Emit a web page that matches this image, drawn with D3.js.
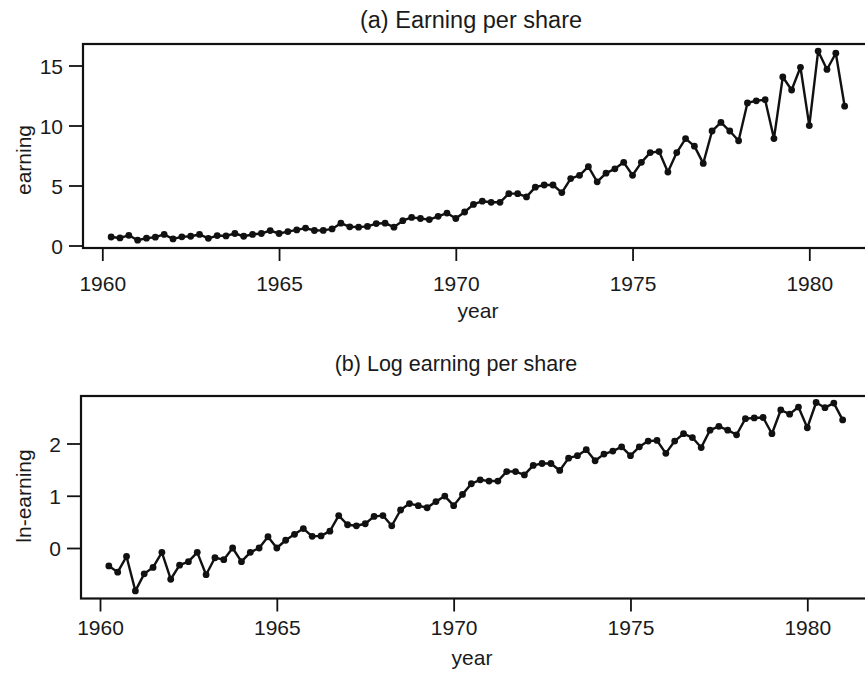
<!DOCTYPE html>
<html>
<head>
<meta charset="utf-8">
<script src="https://cdn.jsdelivr.net/npm/d3@7"></script>
<style>
  html, body { margin: 0; padding: 0; background: #fff; }
  svg { display: block; }
  text { font-family: "Liberation Sans", Arial, Helvetica, sans-serif; fill: #1a1a1a; }
</style>
</head>
<body>
<svg id="chart" width="865" height="674"></svg>
<script>
// Quarterly earnings per share, 1960 Q1 .. 1980 Q4 (plotted at quarter ends)
const firstYear = 1960;
const earnings = [
  0.71, 0.63, 0.85, 0.44,
  0.61, 0.69, 0.92, 0.55,
  0.72, 0.77, 0.92, 0.60,
  0.83, 0.80, 1.00, 0.77,
  0.92, 1.00, 1.24, 1.00,
  1.16, 1.30, 1.45, 1.25,
  1.26, 1.38, 1.86, 1.56,
  1.53, 1.59, 1.83, 1.86,
  1.53, 2.07, 2.34, 2.25,
  2.16, 2.43, 2.70, 2.25,
  2.79, 3.42, 3.69, 3.60,
  3.60, 4.32, 4.32, 4.05,
  4.86, 5.04, 5.04, 4.41,
  5.58, 5.85, 6.57, 5.31,
  6.03, 6.39, 6.93, 5.85,
  6.93, 7.74, 7.83, 6.12,
  7.74, 8.91, 8.28, 6.84,
  9.54, 10.26, 9.54, 8.73,
  11.88, 12.06, 12.15, 8.91,
  14.04, 12.96, 14.85, 9.99,
  16.20, 14.67, 16.02, 11.61
];
const yearTicks = [1960, 1965, 1970, 1975, 1980];
const earningTicks = [0, 5, 10, 15];
const logTicks = [0, 1, 2];

const series = earnings.map((v, i) => ({ t: firstYear + (i + 1) / 4, v }));
const logSeries = series.map(d => ({ t: d.t, v: Math.log(d.v) }));

const svg = d3.select("#chart");
const FONT = "'Liberation Sans', Arial, Helvetica, sans-serif";

function panel(cfg) {
  const g = svg.append("g");
  const x = d3.scaleLinear().domain([1960, 1980]).range(cfg.xRange);
  const y = d3.scaleLinear().domain(cfg.yDomain).range(cfg.yRange);
  const [fx0, fx1] = [cfg.frame.left, cfg.frame.right];
  const [fy0, fy1] = [cfg.frame.top, cfg.frame.bottom];

  // frame
  g.append("rect")
    .attr("x", fx0).attr("y", fy0)
    .attr("width", fx1 - fx0).attr("height", fy1 - fy0)
    .attr("fill", "none").attr("stroke", "#111").attr("stroke-width", 2.2);

  // y axis on the frame's left edge
  const yAxis = d3.axisLeft(y).tickValues(cfg.yTicks).tickSize(14).tickPadding(6)
    .tickFormat(d3.format("d"));
  const ya = g.append("g").attr("transform", `translate(${fx0},0)`).call(yAxis);
  ya.select(".domain").remove();
  ya.selectAll(".tick line").attr("stroke", "#111").attr("stroke-width", 1.8);
  ya.selectAll(".tick text").attr("font-size", 21).attr("dy", "0.36em")
    .style("font-family", FONT).attr("fill", "#1a1a1a");

  // x axis on the frame's bottom edge
  const xAxis = d3.axisBottom(x).tickValues(yearTicks).tickSize(13).tickPadding(cfg.xPad)
    .tickFormat(d3.format("d"));
  const xa = g.append("g").attr("transform", `translate(0,${fy1})`).call(xAxis);
  xa.select(".domain").remove();
  xa.selectAll(".tick line").attr("stroke", "#111").attr("stroke-width", 1.8);
  xa.selectAll(".tick text").attr("font-size", 21)
    .style("font-family", FONT).attr("fill", "#1a1a1a");

  // titles and axis names
  g.append("text").attr("x", cfg.titleX).attr("y", cfg.titleY)
    .attr("text-anchor", "middle").attr("font-size", cfg.titleSize).text(cfg.title);
  g.append("text").attr("x", cfg.xLabelX).attr("y", cfg.xLabelY)
    .attr("text-anchor", "middle").attr("font-size", 21).text("year");
  g.append("text")
    .attr("transform", `translate(${cfg.yLabelX},${cfg.yLabelY}) rotate(-90)`)
    .attr("text-anchor", "middle").attr("font-size", 21).text(cfg.yLabel);

  // series line and points
  const line = d3.line().x(d => x(d.t)).y(d => y(d.v));
  g.append("path").datum(cfg.data)
    .attr("d", line).attr("fill", "none")
    .attr("stroke", "#111").attr("stroke-width", 2.4).attr("stroke-linejoin", "round");
  g.selectAll("circle.pt").data(cfg.data).join("circle")
    .attr("class", "pt")
    .attr("cx", d => x(d.t)).attr("cy", d => y(d.v)).attr("r", 3.4)
    .attr("fill", "#111");
}

panel({
  data: series,
  xRange: [102.3, 809.3],
  yDomain: [0, 15], yRange: [245.5, 65.5],
  yTicks: earningTicks,
  frame: { left: 83, right: 880, top: 44, bottom: 248 },
  xPad: 15,
  title: "(a) Earning per share", titleSize: 23.5,
  titleX: 471, titleY: 28,
  xLabelX: 478, xLabelY: 318,
  yLabel: "earning", yLabelX: 31, yLabelY: 160
});

panel({
  data: logSeries,
  xRange: [100, 807.3],
  yDomain: [0, 2], yRange: [548, 443.5],
  yTicks: logTicks,
  frame: { left: 81, right: 880, top: 396, bottom: 598.5 },
  xPad: 9,
  title: "(b) Log earning per share", titleSize: 21.5,
  titleX: 456, titleY: 371,
  xLabelX: 472, xLabelY: 665,
  yLabel: "ln-earning", yLabelX: 31, yLabelY: 496
});
</script>
</body>
</html>
